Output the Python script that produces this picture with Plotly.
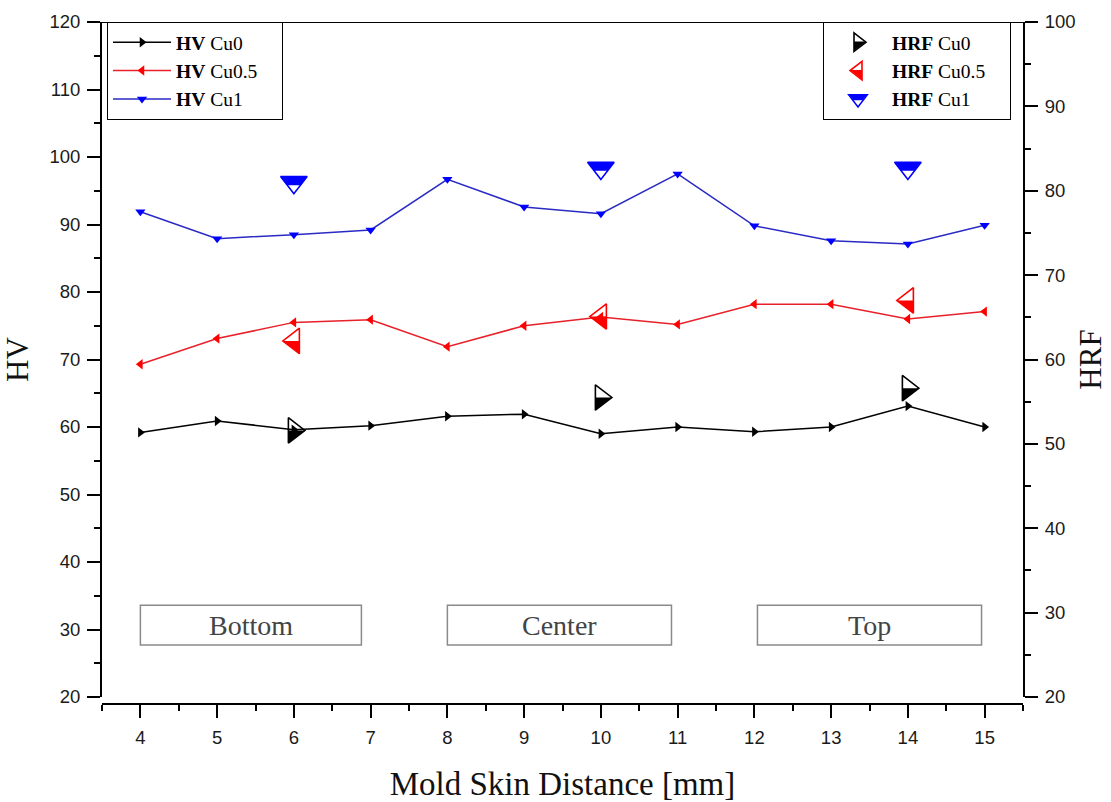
import math
import plotly.graph_objects as go

# ---------------- data ----------------
x_dist = [4, 5, 6, 7, 8, 9, 10, 11, 12, 13, 14, 15]
hv_cu0 = [59.2, 60.9, 59.6, 60.2, 61.6, 61.9, 59.0, 60.0, 59.3, 60.0, 63.1, 60.0]
hv_cu05 = [69.3, 73.1, 75.5, 75.9, 71.9, 75.0, 76.3, 75.2, 78.2, 78.2, 76.0, 77.1]
hv_cu1 = [91.9, 87.9, 88.5, 89.2, 96.7, 92.6, 91.6, 97.5, 89.8, 87.6, 87.1, 89.9]

x_hrf = [6, 10, 14]
hrf_cu0 = [51.6, 55.5, 56.6]
hrf_cu05 = [62.2, 65.1, 67.0]
hrf_cu1 = [81.0, 82.7, 82.7]

region_labels = ["Bottom", "Center", "Top"]
region_x0 = [4.0, 8.0, 12.04]
region_x1 = [6.88, 10.92, 14.96]

PAD = "\u00a0" * 4
hv_names = ["<b>HV</b> Cu0" + PAD, "<b>HV</b> Cu0.5" + PAD, "<b>HV</b> Cu1" + PAD]
hrf_names = ["<b>HRF</b> Cu0" + PAD, "<b>HRF</b> Cu0.5" + PAD, "<b>HRF</b> Cu1" + PAD]

# ---------------- style ----------------
SERIF = "Liberation Serif"
SANS = "Liberation Sans"
marker_cols = ["#000000", "#ff0000", "#0000ff"]
line_cols = ["#000000", "#e8202a", "#2a2ac4"]
hv_symbols = ["triangle-right", "triangle-left", "triangle-down"]
hrf_symbols = ["triangle-right-open", "triangle-left-open", "triangle-down-open"]
HRF_SIZE = [22, 22, 23]
LEG_FONT = 19.5
ITEMW = 58

# plot-area pixel geometry (for placing legend-symbol fills in paper units)
PL, PR, PT, PB = 102, 1023, 22, 704

fig = go.Figure()

for ys, nm, mc, lc, sym in zip([hv_cu0, hv_cu05, hv_cu1], hv_names, marker_cols, line_cols, hv_symbols):
    fig.add_trace(go.Scatter(
        x=x_dist, y=ys, name=nm, mode="lines+markers",
        line=dict(color=lc, width=1.5),
        marker=dict(symbol=sym, size=9, color=mc, line=dict(width=0)),
        legend="legend", yaxis="y", xaxis="x"))

for ys, nm, mc, sym, sz in zip([hrf_cu0, hrf_cu05, hrf_cu1], hrf_names, marker_cols, hrf_symbols, HRF_SIZE):
    fig.add_trace(go.Scatter(
        x=x_hrf, y=ys, name=nm, mode="markers",
        marker=dict(symbol=sym, size=sz, color=mc, line=dict(width=1.6, color=mc)),
        legend="legend2", yaxis="y2", xaxis="x"))


def half_path(kind, size):
    r = size / 2.0
    rt = r * 2 / math.sqrt(3)
    if kind == "down":   # top half filled
        pts = [(-rt, r / 2), (rt, r / 2), (rt / 2, -r / 4), (-rt / 2, -r / 4)]
    elif kind == "right":  # bottom half filled
        pts = [(-r / 2, 0), (r, 0), (-r / 2, -rt)]
    else:  # left, bottom half filled
        pts = [(r / 2, 0), (-r, 0), (r / 2, -rt)]
    return "M " + " L ".join(f"{px:.2f},{py:.2f}" for px, py in pts) + " Z"


kinds = ["right", "left", "down"]
shapes = []
for ys, kind, mc, sz in zip([hrf_cu0, hrf_cu05, hrf_cu1], kinds, marker_cols, HRF_SIZE):
    for xv, yv in zip(x_hrf, ys):
        shapes.append(dict(type="path", xref="x", yref="y2", xsizemode="pixel", ysizemode="pixel",
                           xanchor=xv, yanchor=yv, path=half_path(kind, sz),
                           fillcolor=mc, line=dict(width=0), layer="above"))

# legend2 geometry (row spacing follows the legend font size)
LEG2_LEFT = 823
leg2_sym_px = LEG2_LEFT + 6 + ITEMW / 2.0
row_h = LEG_FONT * 1.3 + 3
first_row = 41 + (LEG_FONT - 18.5) * 0.6
leg2_rows_px = [first_row + i * row_h for i in range(3)]
for kind, mc, rowy in zip(kinds, marker_cols, leg2_rows_px):
    shapes.append(dict(type="path", xref="paper", yref="paper", xsizemode="pixel", ysizemode="pixel",
                       xanchor=(leg2_sym_px - PL) / (PR - PL), yanchor=(PB - rowy) / (PB - PT),
                       path=half_path(kind, 16),
                       fillcolor=mc, line=dict(width=0), layer="above"))

# region boxes
annotations = []
for lab, x0, x1 in zip(region_labels, region_x0, region_x1):
    shapes.append(dict(type="rect", xref="x", yref="y", x0=x0, x1=x1, y0=27.7, y1=33.6,
                       line=dict(color="#8a8a8a", width=1.5), fillcolor="rgba(0,0,0,0)", layer="below"))
    annotations.append(dict(x=(x0 + x1) / 2, y=30.6, xref="x", yref="y", text=lab, showarrow=False,
                            font=dict(family=SERIF, size=28, color="#444444")))

# top frame line
shapes.append(dict(type="line", xref="paper", yref="y", x0=0, x1=1, y0=120, y1=120,
                   line=dict(color="black", width=2)))

tickfont = dict(family=SANS, size=18.5, color="#1a1a1a")
common_y = dict(showline=True, linecolor="black", linewidth=2, ticks="outside", ticklen=13, tickwidth=2,
                tickcolor="black", showgrid=False, zeroline=False, tickfont=tickfont, automargin=False,
                domain=[(PB - 697) / (PB - PT), 1], ticklabelstandoff=3)

fig.update_layout(
    width=1111, height=802,
    margin=dict(l=PL, r=1111 - PR, t=PT, b=802 - PB, autoexpand=False),
    paper_bgcolor="white", plot_bgcolor="white",
    xaxis=dict(range=[3.5, 15.5], tick0=4, dtick=1, showline=True, linecolor="black", linewidth=2,
               ticks="outside", ticklen=13, tickwidth=2, tickcolor="black", ticklabelstandoff=4,
               minor=dict(dtick=0.5, ticks="outside", ticklen=6, tickwidth=2, tickcolor="black"),
               showgrid=False, zeroline=False, tickfont=tickfont, anchor="free", position=0,
               automargin=False,
               title=dict(text="Mold Skin Distance [mm]", font=dict(family=SERIF, size=33, color="#111"),
                          standoff=28)),
    yaxis=dict(range=[20, 120], tick0=20, dtick=10,
               minor=dict(dtick=5, ticks="outside", ticklen=6, tickwidth=2, tickcolor="black"),
               title=dict(text="HV", font=dict(family=SERIF, size=31, color="#111"), standoff=12),
               **common_y),
    yaxis2=dict(range=[20, 100], tick0=20, dtick=10, overlaying="y", side="right", anchor="x",
                minor=dict(dtick=5, ticks="outside", ticklen=6, tickwidth=2, tickcolor="black"),
                title=dict(text="HRF", font=dict(family=SERIF, size=31, color="#111"), standoff=5),
                **common_y),
    legend=dict(x=(107 - PL) / (PR - PL), y=1, xanchor="left", yanchor="top", bgcolor="rgba(0,0,0,0)",
                bordercolor="black", borderwidth=1, itemwidth=ITEMW,
                font=dict(family=SERIF, size=LEG_FONT, color="black")),
    legend2=dict(x=(LEG2_LEFT - PL) / (PR - PL), y=1, xanchor="left", yanchor="top", bgcolor="rgba(0,0,0,0)",
                 bordercolor="black", borderwidth=1, itemwidth=ITEMW,
                 font=dict(family=SERIF, size=LEG_FONT, color="black")),
    shapes=shapes, annotations=annotations,
)

fig.write_html("out.html")
